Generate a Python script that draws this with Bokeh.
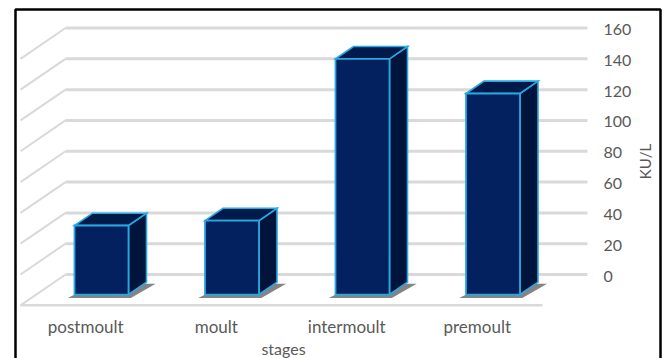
import math
from bokeh.plotting import figure
from bokeh.models import Range1d, BoxAnnotation
from bokeh.core.properties import value
from bokeh.embed import file_html
from bokeh.resources import INLINE

# ---- data ----
categories = ["postmoult", "moult", "intermoult", "premoult"]
values = [44.8, 48.0, 153.0, 130.5]
y_ticks = [0, 20, 40, 60, 80, 100, 120, 140, 160]
y_tick_labels = [str(t) for t in y_ticks]
x_title = "stages"
y_title = "KU/L"

# ---- geometry of the oblique 3D look ----
PX_PER_X = 130.5          # pixels per category slot
PX_PER_Y = 1.5406         # pixels per KU/L
X0_PX, Y0_PX = 20, 274    # floor-front left edge / wall zero line
W, H = 670, 358


def dx(px):
    return (px - X0_PX) / PX_PER_X - 0.5


def dy(px):
    return (Y0_PX - px) / PX_PER_Y


KX = 45 / PX_PER_X        # x shift for full depth
KY = 20.0                 # y shift (value units) for full depth
ZF, ZB = 0.35, 0.75       # bar front / back depth (0 = front, 1 = back wall)
BW = 54 / PX_PER_X        # bar width


def X(x, z):
    return x + KX * z


def Y(v, z):
    return v - KY + KY * z


p = figure(width=W, height=H, output_backend="svg", toolbar_location=None,
           x_range=Range1d(dx(0), dx(W)), y_range=Range1d(dy(H), dy(0)),
           min_border_left=0, min_border_top=0, min_border_right=0, min_border_bottom=0)
p.grid.visible = False
p.axis.visible = False
p.outline_line_color = None
p.background_fill_color = "white"
p.border_fill_color = "white"

n = len(categories)
grid_col = "#d9d9d9"
xl = -0.5
xr = n - 0.5
# back wall gridlines
p.segment(x0=[X(xl, 1)] * len(y_ticks), y0=y_ticks,
          x1=[X(xr, 1)] * len(y_ticks), y1=y_ticks,
          line_color=grid_col, line_width=3)
# left wall diagonals
p.segment(x0=[X(xl, 0)] * len(y_ticks), y0=[Y(t, 0) for t in y_ticks],
          x1=[X(xl, 1)] * len(y_ticks), y1=[Y(t, 1) for t in y_ticks],
          line_color=grid_col, line_width=2)
# floor front edge
p.segment(x0=[X(xl, 0)], y0=[Y(0, 0)], x1=[X(xr, 0)], y1=[Y(0, 0)],
          line_color=grid_col, line_width=2.5)

# bars
front_xs, front_ys, top_xs, top_ys, side_xs, side_ys, sh_xs, sh_ys = [], [], [], [], [], [], [], []
for i, v in enumerate(values):
    l, r = i - BW / 2, i + BW / 2
    front_xs.append([X(l, ZF), X(r, ZF), X(r, ZF), X(l, ZF)])
    front_ys.append([Y(0, ZF), Y(0, ZF), Y(v, ZF), Y(v, ZF)])
    top_xs.append([X(l, ZF), X(r, ZF), X(r, ZB), X(l, ZB)])
    top_ys.append([Y(v, ZF), Y(v, ZF), Y(v, ZB), Y(v, ZB)])
    side_xs.append([X(r, ZF), X(r, ZB), X(r, ZB), X(r, ZF)])
    side_ys.append([Y(0, ZF), Y(0, ZB), Y(v, ZB), Y(v, ZF)])
    e = 0.035
    sh_xs.append([X(l - e, ZF - 0.05), X(r + e, ZF - 0.05), X(r + 2 * e, ZB), X(l + e, ZB)])
    sh_ys.append([Y(-1.2, ZF - 0.05), Y(-1.2, ZF - 0.05), Y(-1.0, ZB), Y(-1.0, ZB)])

p.patches(sh_xs, sh_ys, fill_color="#6f6f6f", fill_alpha=0.85, line_color=None)
edge = "#27a8e0"
p.patches(side_xs, side_ys, fill_color="#01143c", line_color=edge, line_width=1.6, line_join="miter")
p.patches(top_xs, top_ys, fill_color="#011a4c", line_color=edge, line_width=1.6, line_join="miter")
p.patches(front_xs, front_ys, fill_color="#03215f", line_color=edge, line_width=1.8, line_join="miter")

label_col = "#595959"
FONT = value("Lato")

# value-axis tick labels (right side)
p.text(x=[dx(603)] * len(y_ticks), y=[t - 1.0 for t in y_ticks], text=y_tick_labels,
       text_align="left", text_baseline="middle", text_font=FONT,
       text_font_size="16px", text_color=label_col)
# category labels (below the floor, one per slot)
p.text(x=list(range(n)), y=[dy(326)] * n, text=categories,
       text_align="center", text_baseline="middle", text_font=FONT,
       text_font_size="17px", text_color=label_col)
# axis titles
p.text(x=[dx(283)], y=[dy(348)], text=[x_title], text_align="center", text_baseline="middle",
       text_font=FONT, text_font_size="16px", text_color=label_col)
p.text(x=[dx(644)], y=[dy(161)], text=[y_title], text_align="center", text_baseline="middle",
       angle=math.pi / 2, text_font=FONT, text_font_size="15px", text_color=label_col)

# outer frame border
p.add_layout(BoxAnnotation(left=dx(15), right=dx(660), top=dy(9), bottom=dy(420),
                           fill_color=None, fill_alpha=0, line_color="black", line_alpha=1.0,
                           line_width=2.5, editable=False))

open("out.html", "w").write(file_html(p, INLINE))
